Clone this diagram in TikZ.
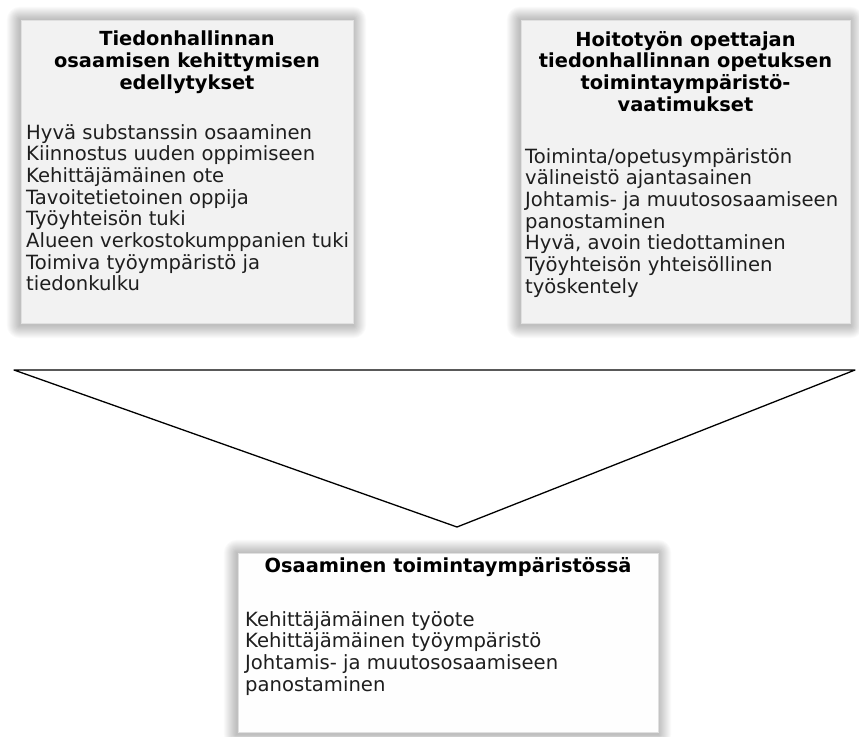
\documentclass[tikz,border=0pt]{standalone}
\usepackage{fontspec}
\setmainfont{DejaVu Sans}
\definecolor{boxgray}{HTML}{F2F2F2}
\definecolor{boxwhite}{HTML}{FEFEFE}
\definecolor{edgegray}{HTML}{E0E0E0}
\definecolor{txt}{HTML}{1E1E1E}
\begin{document}
\begin{tikzpicture}[x=1pt,y=-1pt,
  panel/.style={draw=edgegray, line width=0.8pt, fill=#1, inner sep=0pt},
  ttl/.style={font=\bfseries\fontsize{19.4}{21.7}\selectfont, text=black, align=center, inner sep=0pt, anchor=north},
  bdy/.style={font=\fontsize{19.6}{21.7}\selectfont, text=txt, align=left, inner sep=0pt, anchor=north west},
  tri/.style={draw=black, line width=1.3pt, line join=round}
]
\useasboundingbox (0,0) rectangle (859,736);
\fill[white] (0,0) rectangle (859,736);

% shadow helper
\newcommand{\glowbox}[1]{%
  \foreach \s in {1,...,13}{%
    \fill[black, fill opacity=0.02, rounded corners=\s pt]
      ([xshift=-\s pt-1pt, yshift=\s pt]#1.north west) rectangle ([xshift=\s pt, yshift=-\s pt-2pt]#1.south east);
  }%
}

% boxes (invisible first to get anchors)
\path (187,171.5) node[minimum width=332pt, minimum height=303pt, inner sep=0pt] (L) {};
\path (685.5,171.5) node[minimum width=329pt, minimum height=303pt, inner sep=0pt] (R) {};
\path (448,642.5) node[minimum width=420pt, minimum height=179pt, inner sep=0pt] (B) {};

\glowbox{L}
\glowbox{R}
\glowbox{B}

\node[panel=boxgray, minimum width=332pt, minimum height=303pt] (Lp) at (L) {};
\node[panel=boxgray, minimum width=329pt, minimum height=303pt] (Rp) at (R) {};
\node[panel=boxwhite, minimum width=420pt, minimum height=179pt] (Bp) at (B) {};

% left box text
\node[ttl] (Lt) at (187,31) {Tiedonhallinnan\\osaamisen kehittymisen\\edellytykset};
\node[bdy] (Lb) at (26,124) {Hyvä substanssin osaaminen\\Kiinnostus uuden oppimiseen\\Kehittäjämäinen ote\\Tavoitetietoinen oppija\\Työyhteisön tuki\\Alueen verkostokumppanien tuki\\Toimiva työympäristö ja\\tiedonkulku};

% right box text
\node[ttl] (Rt) at (685.5,31) {Hoitotyön opettajan\\tiedonhallinnan opetuksen\\toimintaympäristö-\\vaatimukset};
\node[bdy] (Rb) at (525,148) {Toiminta/opetusympäristön\\välineistö ajantasainen\\Johtamis- ja muutososaamiseen\\panostaminen\\Hyvä, avoin tiedottaminen\\Työyhteisön yhteisöllinen\\työskentely};

% bottom box text
\node[ttl] (Bt) at (448,557) {Osaaminen toimintaympäristössä};
\node[bdy] (Bb) at (245,611) {Kehittäjämäinen työote\\Kehittäjämäinen työympäristö\\Johtamis- ja muutososaamiseen\\panostaminen};

% funnel triangle
\coordinate (T1) at (14,370);
\coordinate (T2) at (855,370);
\coordinate (T3) at (457,527);
\draw[tri] (T1) -- (T2) -- (T3) -- cycle;
\end{tikzpicture}
\end{document}
